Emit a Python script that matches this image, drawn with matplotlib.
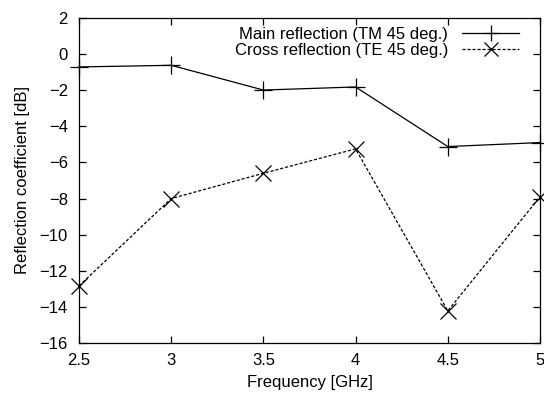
import matplotlib
matplotlib.use("Agg")
import matplotlib.pyplot as plt
from matplotlib.ticker import MultipleLocator

plt.rcParams['font.family'] = ['Liberation Sans', 'DejaVu Sans']

freq = [2.5, 3.0, 3.5, 4.0, 4.5, 5.0]
freq_labels = ['2.5', '3', '3.5', '4', '4.5', '5']
main_tm = [-0.71, -0.62, -1.99, -1.82, -5.12, -4.9]
cross_te = [-12.84, -8.0, -6.6, -5.25, -14.22, -7.9]

fig = plt.figure(figsize=(5.44, 3.96), dpi=100)
ax = fig.add_axes([79/544, 1-343/396, (540-79)/544, (343-18)/396])

ax.plot(freq, main_tm, color='black', lw=0.9, marker='+', ms=13, mew=0.9,
        label='Main reflection (TM 45 deg.)', clip_on=False)
ax.plot(freq, cross_te, color='black', lw=0.9, ls=(0, (2.5, 1.5)), marker='x', ms=11, mew=0.9,
        label='Cross reflection (TE 45 deg.)', clip_on=False)

ax.set_xlim(2.5, 5)
ax.set_ylim(-16, 2)
ax.set_xticks(freq)
ax.set_xticklabels(freq_labels)
ax.yaxis.set_major_locator(MultipleLocator(2))
ax.tick_params(direction='in', top=True, right=True, length=5, width=0.9, labelsize=12)
ax.tick_params(axis='x', pad=7)
ax.tick_params(axis='y', pad=8)
for s in ax.spines.values():
    s.set_linewidth(0.9)
ax.set_xlabel('Frequency [GHz]', fontsize=12, labelpad=5)
ax.set_ylabel('Reflection coefficient [dB]', fontsize=12, labelpad=7)

leg = ax.legend(loc='upper right', frameon=False, markerfirst=False, fontsize=12,
                handlelength=3.4, borderaxespad=0, borderpad=0, labelspacing=0.05,
                handletextpad=0.85, markerscale=0.9,
                bbox_to_anchor=(519/544, 1-27/396), bbox_transform=fig.transFigure)

fig.savefig('out.png', dpi=100)
